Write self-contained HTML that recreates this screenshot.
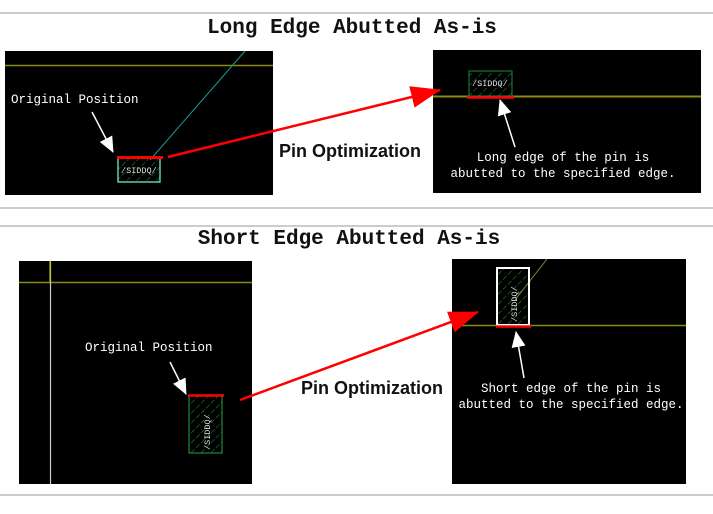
<!DOCTYPE html>
<html><head><style>
html,body{margin:0;padding:0;background:#fff;}
svg{display:block;}
.t{font-family:"Liberation Mono",monospace;font-weight:bold;font-size:21px;fill:#111;}
.m{font-family:"Liberation Mono",monospace;font-size:12.5px;fill:#fff;}
.p{font-family:"Liberation Sans",sans-serif;font-weight:bold;font-size:18px;fill:#111;}
.s{font-family:"Liberation Mono",monospace;font-size:8.5px;fill:#ddd;}
</style></head><body>
<svg width="713" height="514" viewBox="0 0 713 514" xmlns="http://www.w3.org/2000/svg">
<defs>
<pattern id="h" width="7" height="7" patternUnits="userSpaceOnUse" patternTransform="rotate(45)">
<line x1="0" y1="0" x2="0" y2="7" stroke="#1a8a3a" stroke-width="1.2" stroke-dasharray="3 2"/>
</pattern>
<marker id="aw" markerWidth="16" markerHeight="14" refX="15" refY="7" orient="auto" markerUnits="userSpaceOnUse">
<path d="M0,0 L16,7 L0,14 z" fill="#fff"/></marker>
<marker id="ab" markerWidth="30" markerHeight="22" refX="29" refY="11" orient="auto" markerUnits="userSpaceOnUse">
<path d="M0,0 L30,11 L0,22 z" fill="#f00"/></marker>
</defs>
<rect x="0" y="12" width="713" height="2" fill="#ccc"/>
<rect x="0" y="207" width="713" height="2" fill="#ccc"/>
<rect x="0" y="225" width="713" height="2" fill="#ccc"/>
<rect x="0" y="494" width="713" height="2" fill="#ccc"/>
<text class="t" x="352" y="33" text-anchor="middle">Long Edge Abutted As-is</text>
<text class="t" x="349" y="244" text-anchor="middle">Short Edge Abutted As-is</text>

<!-- top-left -->
<rect x="5" y="51" width="268" height="144" fill="#000"/>
<line x1="5" y1="65.5" x2="273" y2="65.5" stroke="#8a8a10" stroke-width="1.5"/>
<line x1="245" y1="51" x2="150" y2="160" stroke="#1a9a9a" stroke-width="1"/>
<rect x="118" y="158" width="42" height="24" fill="url(#h)" stroke="#7fd" stroke-width="1.2"/>
<text class="s" x="121" y="173">/SIDDQ/</text>
<line x1="117" y1="157.5" x2="163" y2="157.5" stroke="#f00" stroke-width="3"/>
<text class="m" x="11" y="103">Original Position</text>
<line x1="92" y1="112" x2="113" y2="152" stroke="#fff" stroke-width="1.5" marker-end="url(#aw)"/>

<!-- top-right -->
<rect x="433" y="50" width="268" height="143" fill="#000"/>
<line x1="433" y1="96.5" x2="701" y2="96.5" stroke="#8a8a10" stroke-width="2"/>
<rect x="469" y="71" width="43" height="25" fill="url(#h)" stroke="#1a8a3a" stroke-width="1"/>
<text class="s" x="472" y="86">/SIDDQ/</text>
<line x1="467" y1="97.5" x2="514" y2="97.5" stroke="#f00" stroke-width="2.5"/>
<line x1="515" y1="147" x2="500" y2="100" stroke="#fff" stroke-width="1.5" marker-end="url(#aw)"/>
<text class="m" x="563" y="161" text-anchor="middle">Long edge of the pin is</text>
<text class="m" x="563" y="177" text-anchor="middle">abutted to the specified edge.</text>

<line x1="168" y1="157" x2="440" y2="90" stroke="#f00" stroke-width="2.5" marker-end="url(#ab)"/>
<text class="p" x="279" y="157">Pin Optimization</text>

<!-- bottom-left -->
<rect x="19" y="261" width="233" height="223" fill="#000"/>
<line x1="19" y1="282.5" x2="252" y2="282.5" stroke="#8a8a10" stroke-width="1.5"/>
<line x1="50.5" y1="261" x2="50.5" y2="484" stroke="#ccc" stroke-width="1.2"/>
<line x1="50" y1="261" x2="50" y2="282" stroke="#bb0" stroke-width="1.2"/>
<rect x="189" y="395" width="33" height="58" fill="url(#h)" stroke="#1a8a3a" stroke-width="1.2"/>
<text class="s" transform="translate(210,450) rotate(-90)">/SIDDQ/</text>
<line x1="188" y1="395.5" x2="224" y2="395.5" stroke="#f00" stroke-width="2.5"/>
<text class="m" x="85" y="351">Original Position</text>
<line x1="170" y1="362" x2="186" y2="394" stroke="#fff" stroke-width="1.5" marker-end="url(#aw)"/>

<!-- bottom-right -->
<rect x="452" y="259" width="234" height="225" fill="#000"/>
<line x1="452" y1="325.5" x2="686" y2="325.5" stroke="#8a8a10" stroke-width="1.5"/>
<line x1="547" y1="259" x2="515" y2="300" stroke="#8a8a30" stroke-width="1"/>
<rect x="497" y="268" width="32" height="57" fill="url(#h)" stroke="#fff" stroke-width="2"/>
<text class="s" transform="translate(517,322) rotate(-90)">/SIDDQ/</text>
<line x1="496" y1="326.5" x2="531" y2="326.5" stroke="#f00" stroke-width="2.5"/>
<line x1="524" y1="378" x2="516" y2="332" stroke="#fff" stroke-width="1.5" marker-end="url(#aw)"/>
<text class="m" x="571" y="392" text-anchor="middle">Short edge of the pin is</text>
<text class="m" x="571" y="408" text-anchor="middle">abutted to the specified edge.</text>

<line x1="240" y1="400" x2="478" y2="312" stroke="#f00" stroke-width="2.5" marker-end="url(#ab)"/>
<text class="p" x="301" y="394">Pin Optimization</text>
</svg>
</body></html>
